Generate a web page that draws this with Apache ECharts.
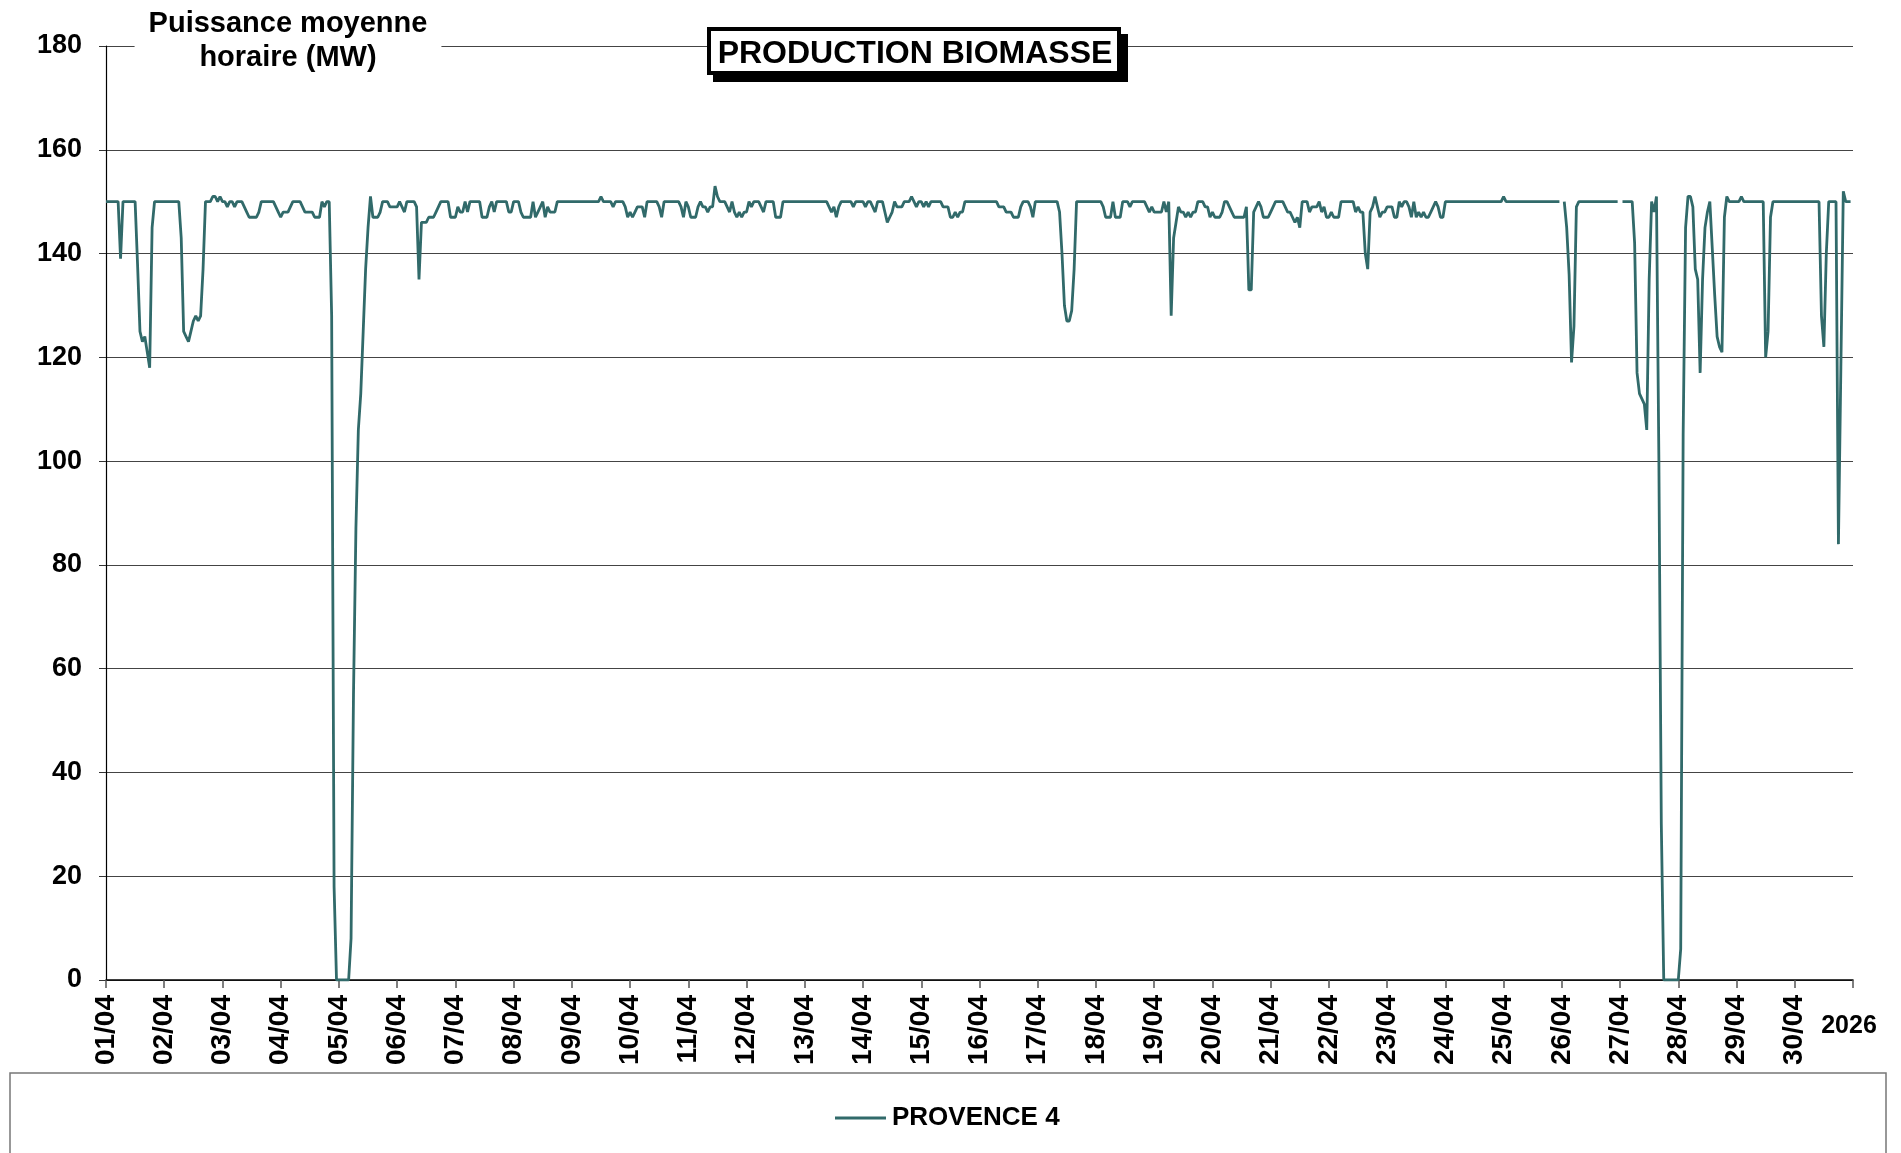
<!DOCTYPE html>
<html>
<head>
<meta charset="utf-8">
<title>Production biomasse</title>
<script src="https://cdn.jsdelivr.net/npm/echarts@6/dist/echarts.min.js"></script>
<style>
  html, body { margin: 0; padding: 0; background: #fff; }
  #chart { width: 1901px; height: 1153px; }
</style>
</head>
<body>
<div id="chart"></div>
<script>
// tick labels
const dayLabels = ['01/04','02/04','03/04','04/04','05/04','06/04','07/04','08/04','09/04','10/04',
  '11/04','12/04','13/04','14/04','15/04','16/04','17/04','18/04','19/04','20/04',
  '21/04','22/04','23/04','24/04','25/04','26/04','27/04','28/04','29/04','30/04'];
const yearLabel = '2026';
const seriesName = 'PROVENCE 4';

// puissance moyenne horaire (MW), 24 valeurs par jour, null = pas de mesure
const apr01 = [150,150,150,150,150,150,139,150,150,150,150,150,150,138,125,123,124,121,118,145,150,150,150,150];
const apr02 = [150,150,150,150,150,150,150,143,125,124,123,125,127,128,127,128,137,150,150,150,151,151,150,151];
const apr03 = [150,150,149,150,150,149,150,150,150,149,148,147,147,147,147,148,150,150,150,150,150,150,149,148];
const apr04 = [147,148,148,148,149,150,150,150,150,149,148,148,148,148,147,147,147,150,149,150,150,128,18,0];
const apr05 = [0,0,0,0,0,8,55,87,106,113,125,137,145,151,147,147,147,148,150,150,150,149,149,149];
const apr06 = [149,150,149,148,150,150,150,150,149,135,146,146,146,147,147,147,148,149,150,150,150,150,147,147];
const apr07 = [147,149,148,148,150,148,150,150,150,150,150,147,147,147,149,150,148,150,150,150,150,150,148,148];
const apr08 = [150,150,150,148,147,147,147,147,150,147,148,149,150,147,149,148,148,148,150,150,150,150,150,150];
const apr09 = [150,150,150,150,150,150,150,150,150,150,150,150,151,150,150,150,150,149,150,150,150,150,149,147];
const apr10 = [148,147,148,149,149,149,147,150,150,150,150,150,149,147,150,150,150,150,150,150,150,149,147,150];
const apr11 = [149,147,147,147,149,150,149,149,148,149,149,153,151,150,150,150,149,148,150,148,147,148,147,148];
const apr12 = [148,150,149,150,150,150,149,148,150,150,150,150,147,147,147,150,150,150,150,150,150,150,150,150];
const apr13 = [150,150,150,150,150,150,150,150,150,150,149,148,149,147,149,150,150,150,150,150,149,150,150,150];
const apr14 = [150,149,150,150,149,148,150,150,150,148,146,147,148,150,149,149,149,150,150,150,151,150,149,150];
const apr15 = [150,149,150,149,150,150,150,150,150,149,149,149,147,147,148,147,148,148,150,150,150,150,150,150];
const apr16 = [150,150,150,150,150,150,150,150,149,149,149,148,148,148,147,147,147,149,150,150,150,149,147,150];
const apr17 = [150,150,150,150,150,150,150,150,150,148,140,130,127,127,129,137,150,150,150,150,150,150,150,150];
const apr18 = [150,150,150,149,147,147,147,150,147,147,147,150,150,150,149,150,150,150,150,150,150,149,148,149];
const apr19 = [148,148,148,148,150,148,150,128,143,146,149,148,148,147,148,147,148,148,150,150,150,149,149,147];
const apr20 = [148,147,147,147,148,150,150,149,148,147,147,147,147,147,149,133,133,148,149,150,149,147,147,147];
const apr21 = [148,149,150,150,150,150,149,148,148,147,146,147,145,150,150,150,148,149,149,149,150,148,149,147];
const apr22 = [147,148,147,147,147,150,150,150,150,150,150,148,149,148,148,140,137,148,149,151,149,147,148,148];
const apr23 = [149,149,149,147,147,150,149,150,150,149,147,150,147,148,147,148,147,147,148,149,150,149,147,147];
const apr24 = [150,150,150,150,150,150,150,150,150,150,150,150,150,150,150,150,150,150,150,150,150,150,150,150];
const apr25 = [151,150,150,150,150,150,150,150,150,150,150,150,150,150,150,150,150,150,150,150,150,150,150,150];
const apr26 = [null,150,145,136,119,126,149,150,150,150,150,150,150,150,150,150,150,150,150,150,150,150,150,150];
const apr27 = [null,150,150,150,150,150,142,117,113,112,111,106,135,150,148,151,100,30,0,0,0,0,0,0];
const apr28 = [0,6,105,145,151,151,149,137,135,117,135,145,148,150,141,132,124,122,121,147,151,150,150,150];
const apr29 = [150,150,151,150,150,150,150,150,150,150,150,150,120,125,147,150,150,150,150,150,150,150,150,150];
const apr30 = [150,150,150,150,150,150,150,150,150,150,150,128,122,140,150,150,150,150,84,118,152,150,150,150];

const hourly = [apr01, apr02, apr03, apr04, apr05, apr06, apr07, apr08, apr09, apr10,
  apr11, apr12, apr13, apr14, apr15, apr16, apr17, apr18, apr19, apr20,
  apr21, apr22, apr23, apr24, apr25, apr26, apr27, apr28, apr29, apr30].flat();

const FONT = '"Liberation Sans", Arial, sans-serif';
const LINE_COLOR = '#316a6a';

const chart = echarts.init(document.getElementById('chart'));

chart.setOption({
  backgroundColor: '#fff',
  animation: false,
  textStyle: { fontFamily: FONT },
  grid: { left: 106, right: 48, top: 46, bottom: 173, containLabel: false },
  legend: {
    data: [seriesName],
    left: 830,
    top: 1100,
    icon: 'rect',
    itemWidth: 51,
    itemHeight: 3,
    itemGap: 6,
    textStyle: { fontFamily: FONT, fontSize: 26, fontWeight: 'bold', color: '#000', padding: [0, 0, 0, 1] }
  },
  xAxis: {
    type: 'value',
    min: 0,
    max: dayLabels.length * 24,
    interval: 24,
    axisLine: { show: true, lineStyle: { color: '#000', width: 1.5 } },
    axisTick: { show: true, length: 8, lineStyle: { color: '#555', width: 1.5 } },
    splitLine: { show: false },
    axisLabel: {
      rotate: 90,
      margin: 15,
      fontFamily: FONT,
      fontSize: 28,
      fontWeight: 'bold',
      color: '#000',
      showMaxLabel: true,
      formatter: v => dayLabels[v / 24] || ''
    }
  },
  yAxis: {
    type: 'value',
    min: 0,
    max: 180,
    interval: 20,
    axisLine: { show: true, lineStyle: { color: '#000', width: 1.2 } },
    axisTick: { show: true, length: 7, lineStyle: { color: '#333' } },
    splitLine: { show: true, lineStyle: { color: '#444', width: 1.2 } },
    axisLabel: { margin: 24, fontFamily: FONT, fontSize: 27, fontWeight: 'bold', color: '#000' }
  },
  series: [{
    name: seriesName,
    type: 'line',
    data: hourly.map((v, h) => [h, v]),
    showSymbol: false,
    connectNulls: false,
    color: LINE_COLOR,
    lineStyle: { color: LINE_COLOR, width: 2.8 },
    z: 3
  }],
  graphic: [
    // legend frame
    {
      type: 'rect',
      z: 0,
      shape: { x: 10, y: 1073, width: 1876, height: 100 },
      style: { fill: 'none', stroke: '#777', lineWidth: 1.5 }
    },
    // axis name
    {
      type: 'text',
      z: 10,
      x: 288,
      y: 41,
      style: {
        text: 'Puissance moyenne\nhoraire (MW)',
        font: 'bold 29px ' + FONT,
        fill: '#000',
        align: 'center',
        verticalAlign: 'middle',
        lineHeight: 34,
        backgroundColor: '#fff',
        padding: [0, 14]
      }
    },
    // title box with shadow
    {
      type: 'rect',
      z: 10,
      shape: { x: 713, y: 34, width: 415, height: 48 },
      style: { fill: '#000' }
    },
    {
      type: 'rect',
      z: 11,
      shape: { x: 709, y: 29, width: 410, height: 44 },
      style: { fill: '#fff', stroke: '#000', lineWidth: 4 }
    },
    {
      type: 'text',
      z: 12,
      x: 915,
      y: 54,
      style: {
        text: 'PRODUCTION BIOMASSE',
        font: 'bold 32px ' + FONT,
        fill: '#000',
        align: 'center',
        verticalAlign: 'middle'
      }
    },
    // year under the last tick
    {
      type: 'text',
      z: 10,
      x: 1849,
      y: 1026,
      style: {
        text: yearLabel,
        font: 'bold 25px ' + FONT,
        fill: '#000',
        align: 'center',
        verticalAlign: 'middle'
      }
    }
  ]
});
</script>
</body>
</html>
